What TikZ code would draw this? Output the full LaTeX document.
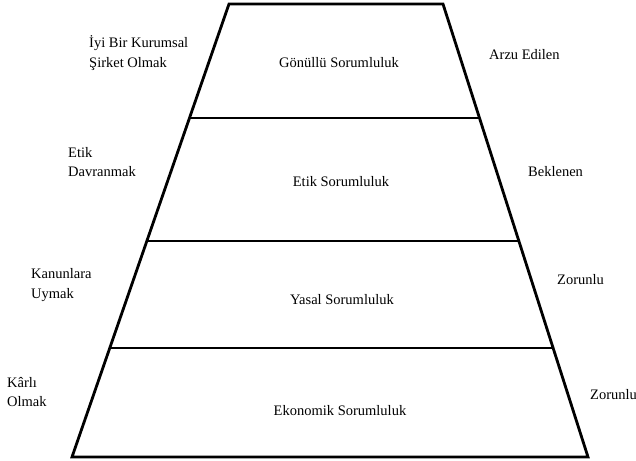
\documentclass[tikz,border=0pt]{standalone}
\usepackage{fontspec}
\setmainfont{Liberation Serif}
\usetikzlibrary{calc,positioning}
\tikzset{
  edge/.style={draw=black, line width=2.8pt, line join=miter},
  level/.style={font=\rmfamily\fontsize{14.5}{19.5}\selectfont, inner sep=0pt, anchor=center},
  side/.style={font=\rmfamily\fontsize{14.5}{19.5}\selectfont, inner sep=0pt, anchor=west, align=left}
}
\begin{document}
\begin{tikzpicture}[x=1pt,y=-1pt]
  \useasboundingbox (0,0) rectangle (636,460);
  % corners of the pyramid
  \coordinate (tl) at (229,4);
  \coordinate (tr) at (443,4);
  \coordinate (bl) at (72,457);
  \coordinate (br) at (588,457);
  \draw[edge] (tl) -- (tr) -- (br) -- (bl) -- cycle;
  % dividing lines
  \foreach \t in {0.2517,0.5232,0.7594} {
    \draw[edge] ($(tl)!\t!(bl)$) -- ($(tr)!\t!(br)$);
  }
  % level names
  \node[level] (gonullu) at (339,63) {Gönüllü Sorumluluk};
  \node[level] (etik) at (341,182) {Etik Sorumluluk};
  \node[level] (yasal) at (342,300) {Yasal Sorumluluk};
  \node[level] (ekonomik) at (340,411) {Ekonomik Sorumluluk};
  % left side
  \node[side] (kurumsal) at (89,53) {İyi Bir Kurumsal\\Şirket Olmak};
  \node[side] (davranmak) at (68,162) {Etik\\Davranmak};
  \node[side] (kanun) at (31,285) {Kanunlara\\Uymak};
  \node[side] (karli) at (7,392) {Kârlı\\Olmak};
  % right side
  \node[side] (arzu) at (489,55) {Arzu Edilen};
  \node[side] (beklenen) at (528,172) {Beklenen};
  \node[side] (zorunlu) at (557,280) {Zorunlu};
  \node[side] (zorunlub) at (590,395) {Zorunlu};
\end{tikzpicture}
\end{document}
